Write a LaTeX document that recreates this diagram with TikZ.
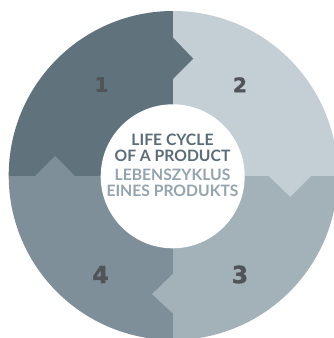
\documentclass[tikz,border=0pt]{standalone}
\usepackage{fontspec}
\setmainfont{Lato}
\newfontfamily\numfont{DejaVu Sans}[BoldFeatures={FakeBold=1.5}]
\definecolor{qa}{HTML}{60737D}
\definecolor{qb}{HTML}{C3CED5}
\definecolor{qc}{HTML}{A3B1B9}
\definecolor{qd}{HTML}{7F8F99}
\definecolor{tdark}{HTML}{5A6C78}
\definecolor{tlight}{HTML}{94A4AE}
\definecolor{tnum}{HTML}{505458}
\tikzset{
  numlabel/.style={font=\numfont\bfseries\fontsize{20}{20}\selectfont,text=tnum,inner sep=0pt},
  numlabeltall/.style={font=\numfont\bfseries\fontsize{23.5}{24}\selectfont,text=tnum,inner sep=0pt},
  titledark/.style={font=\bfseries\fontsize{15.7}{16}\selectfont,text=tdark,inner sep=0pt},
  titlelight/.style={font=\bfseries\fontsize{15.7}{16}\selectfont,text=tlight,inner sep=0pt}
}
\begin{document}
\begin{tikzpicture}[x=1pt,y=1pt]
\useasboundingbox (0,0) rectangle (334,-338);
\clip (0,0) rectangle (334,-338);
\begin{scope}[shift={(172.7,-176.3)}]
\begin{scope}
\clip (0.5,0.8) circle[radius=164.5];
% the four quadrants
\fill[qa] (0,0) rectangle (-170,170);
\fill[qb] (0,0) rectangle (170,170);
\fill[qc] (0,0) rectangle (170,-170);
\fill[qd] (0,0) rectangle (-170,-170);
% tips: each quadrant reaches into the next one
\fill[qa] (-0.5,139) -- (0,139) -- (20.5,117.6) -- (0,97) -- (-0.5,97) -- cycle;
\fill[qb] (138,0.5) -- (138,0) -- (117.6,-20.6) -- (96.3,0) -- (96.3,0.5) -- cycle;
\fill[qc] (0.5,-137) -- (0,-137) -- (-20.7,-117.8) -- (0,-97.7) -- (0.5,-97.7) -- cycle;
\fill[qd] (-138,-0.5) -- (-138,0) -- (-117.5,20.3) -- (-97.5,0) -- (-97.5,-0.5) -- cycle;
\end{scope}
\fill[white] (0,0) circle[radius=72];
\end{scope}
\node[numlabel] (n1) at (101.5,-84.5) {1};
\node[numlabel] (n2) at (240,-84.8) {2};
\node[numlabeltall] (n3) at (240,-274.5) {3};
\node[numlabeltall] (n4) at (100.5,-274.5) {4};
\node[titledark] (t1) at (172.5,-139.5) {LIFE CYCLE};
\node[titledark] (t2) at (172.5,-155.5) {OF A PRODUCT};
\node[titlelight] (t3) at (172.5,-174.7) {LEBENSZYKLUS};
\node[titlelight] (t4) at (172.5,-190.5) {EINES PRODUKTS};
\end{tikzpicture}
\end{document}
